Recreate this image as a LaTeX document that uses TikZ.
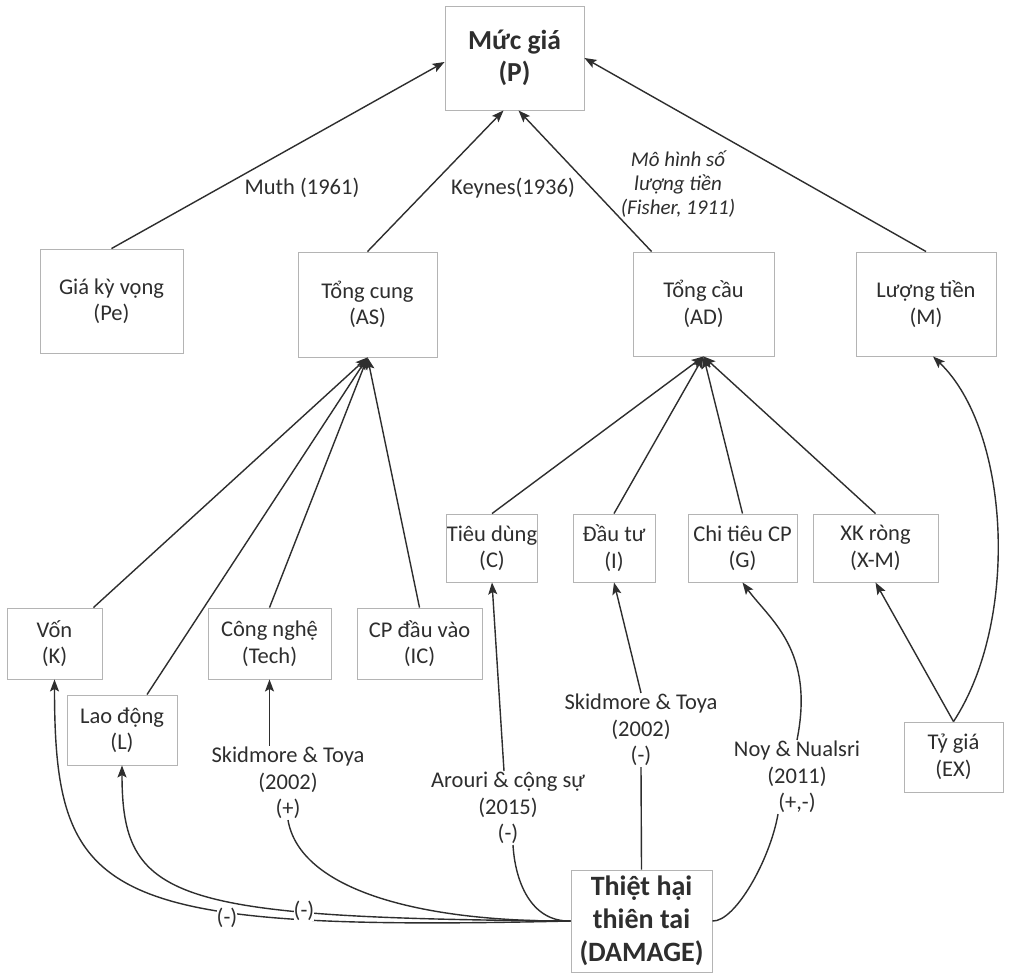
\documentclass[tikz,border=0pt]{standalone}
\usepackage{fontspec}
\setmainfont{Carlito}
\usetikzlibrary{arrows.meta}
\definecolor{ink}{HTML}{2E2E2E}
\definecolor{boxline}{HTML}{B4B4B4}
\begin{document}
\begin{tikzpicture}[x=1pt,y=-1pt,
  box/.style={draw=boxline, line width=0.9pt, fill=white, text=ink, align=center, inner sep=0pt, font=\fontsize{22.5}{26.5}\selectfont},
  bigbox/.style={box, font=\bfseries\fontsize{27.5}{32}\selectfont},
  lbl/.style={text=ink, align=center, inner sep=1pt, font=\fontsize{22.5}{26.5}\selectfont},
  ilbl/.style={text=ink, align=center, inner sep=1pt, font=\itshape\fontsize{21}{24}\selectfont},
  con/.style={draw=ink, line width=1.4pt},
  arr/.style={con, -{Stealth[length=12pt,width=9pt,inset=2.5pt]}},
]
\fill[white] (0,0) rectangle (1011,974);
\useasboundingbox (0,0) rectangle (1011,974);

% boxes
\node[bigbox, minimum width=139pt, minimum height=104pt] (P) at (514.5,58) {Mức giá\\(P)};
\node[box, minimum width=143pt, minimum height=104pt] (Pe) at (111.5,301) {Giá kỳ vọng\\(Pe)};
\node[box, minimum width=139pt, minimum height=105pt] (AS) at (367.5,304.5) {Tổng cung\\(AS)};
\node[box, minimum width=141pt, minimum height=104pt] (AD) at (703.5,304) {Tổng cầu\\(AD)};
\node[box, minimum width=140pt, minimum height=104pt] (M) at (926,304) {Lượng tiền\\(M)};
\node[box, minimum width=95pt, minimum height=71pt] (K) at (54.5,643.5) {Vốn\\(K)};
\node[box, minimum width=123pt, minimum height=71pt] (Tech) at (269.5,643.5) {Công nghệ\\(Tech)};
\node[box, minimum width=125pt, minimum height=71pt] (IC) at (419.5,643.5) {CP đầu vào\\(IC)};
\node[box, minimum width=110pt, minimum height=70pt] (L) at (122,730) {Lao động\\(L)};
\node[box, minimum width=90pt, minimum height=68pt] (C) at (492,548) {Tiêu dùng\\(C)};
\node[box, minimum width=82pt, minimum height=68pt] (I) at (614,548) {Đầu tư\\(I)};
\node[box, minimum width=109pt, minimum height=68pt] (G) at (742.5,548) {Chi tiêu CP\\(G)};
\node[box, minimum width=125pt, minimum height=68pt] (XM) at (875.5,548) {XK ròng\\(X-M)};
\node[box, minimum width=99pt, minimum height=70pt] (EX) at (953.5,757) {Tỷ giá\\(EX)};
\node[bigbox, minimum width=141pt, minimum height=102pt, font=\bfseries\fontsize{28}{33}\selectfont] (DMG) at (641.5,921) {Thiệt hại\\thiên tai\\(DAMAGE)};

% citation labels
\node[lbl] (lMuth) at (302,188) {Muth (1961)};
\node[lbl] (lKey) at (513,188) {Keynes(1936)};
\node[ilbl] (lFish) at (678,184) {Mô hình số\\lượng tiền\\(Fisher, 1911)};
\node[lbl] (lT) at (288,783) {Skidmore \& Toya\\(2002)\\(+)};
\node[lbl] (lC) at (508,808) {Arouri \& cộng sự\\(2015)\\(-)};
\node[lbl] (lI) at (641,730) {Skidmore \& Toya\\(2002)\\(-)};
\node[lbl] (lG) at (797,777) {Noy \& Nualsri\\(2011)\\(+,-)};

% to P
\draw[arr] (Pe.north) -- ([yshift=-4pt]P.west);
\draw[arr] (AS.north) -- ([xshift=-11pt]P.south);
\draw[arr] ([xshift=19pt]AD.north west) -- ([xshift=4pt]P.south);
\draw[arr] (M.north) -- (P.east);

% to AS
\draw[arr] ([xshift=-9pt]K.north east) -- (AS.south);
\draw[arr] ([xshift=25pt]L.north) -- (AS.south);
\draw[arr] (Tech.north) -- (AS.south);
\draw[arr] (IC.north) -- (AS.south);

% to AD
\draw[arr] (C.north) -- (AD.south);
\draw[arr] (I.north) -- (AD.south);
\draw[arr] (G.north) -- (AD.south);
\draw[arr] (XM.north) -- (AD.south);

% exchange rate
\draw[arr] (EX.north) -- (XM.south);
\draw[arr] (EX.north) .. controls (1020,620) and (1010,430) .. ([xshift=7pt]M.south);

% from DAMAGE
\draw[arr] (DMG.west) .. controls (100,932) and (54.5,900) .. (K.south);
\draw[arr] (DMG.west) .. controls (170,918) and (122,900) .. (L.south);
\draw[con] (DMG.west) .. controls (420,922) and (300,890) .. (lT.south);
\draw[arr] (lT.north -| Tech.south) -- (Tech.south);
\draw[con] (DMG.west) .. controls (530,922) and (515,880) .. ([xshift=5pt]lC.south);
\draw[arr] ([xshift=-4pt]lC.north) -- (C.south);
\draw[con] (DMG.north) -- (lI.south);
\draw[arr] (lI.north) -- (I.south);
\draw[con] (DMG.east) .. controls (735,922) and (770,860) .. ([xshift=-19pt]lG.south);
\draw[arr] (lG.north) .. controls (815,650) and (770,620) .. (G.south);

% sign labels on curves
\node[lbl, fill=white, inner sep=0pt] (sK) at (227,918) {(-)};
\node[lbl, fill=white, inner sep=0pt] (sL) at (304,911) {(-)};
\end{tikzpicture}
\end{document}
